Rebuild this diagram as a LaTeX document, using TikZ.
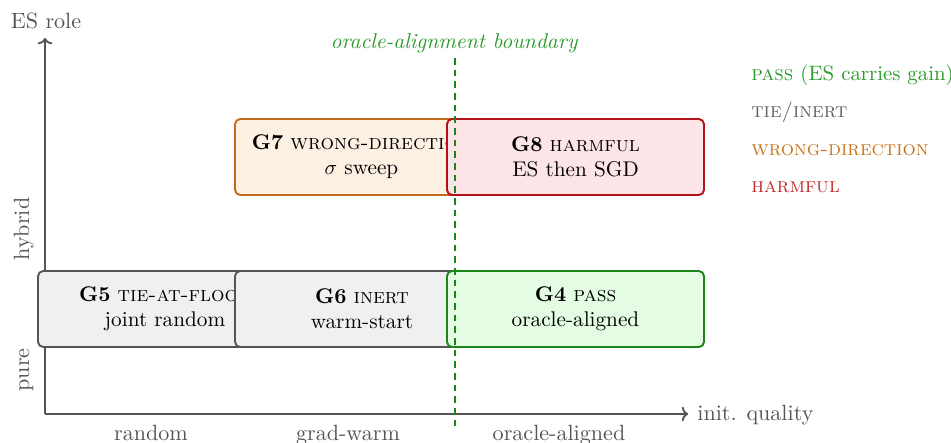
\documentclass[tikz,border=0pt]{standalone}
\usetikzlibrary{arrows.meta}
\definecolor{axisgray}{HTML}{555555}
\definecolor{boxgray}{HTML}{F0F0F0}
\definecolor{edgegray}{HTML}{555555}
\definecolor{passfill}{HTML}{E4FBE4}
\definecolor{passedge}{HTML}{1A861A}
\definecolor{wrongfill}{HTML}{FDF1E4}
\definecolor{wrongedge}{HTML}{BF6A1C}
\definecolor{harmfill}{HTML}{FDE4E6}
\definecolor{harmedge}{HTML}{B3121B}
\definecolor{legpass}{HTML}{2A9A2A}
\definecolor{leggray}{HTML}{606060}
\definecolor{legwrong}{HTML}{C8741E}
\definecolor{legharm}{HTML}{C02A2A}
\tikzset{
  axisline/.style={draw=axisgray, line width=0.9pt, -{To[length=3pt,width=7pt]}},
  axislabel/.style={text=axisgray, font=\fontsize{10.6}{12.7}\selectfont, inner sep=0pt},
  cell/.style={rounded corners=2.5pt, line width=0.9pt, align=center,
    minimum height=36.5pt, font=\fontsize{10.2}{12}\selectfont, inner sep=2pt},
  graycell/.style={cell, fill=boxgray, draw=edgegray},
  passcell/.style={cell, fill=passfill, draw=passedge},
  wrongcell/.style={cell, fill=wrongfill, draw=wrongedge},
  harmcell/.style={cell, fill=harmfill, draw=harmedge},
  boundary/.style={draw=passedge, line width=1pt, dash pattern=on 3.2pt off 2.4pt},
  legend/.style={anchor=base west, inner sep=0pt, font=\fontsize{10}{12}\selectfont},
}
\begin{document}
\begin{tikzpicture}[x=0.48pt, y=-0.48pt]
\useasboundingbox (0,0) rectangle (951,442);
% axes
\coordinate (origin) at (45,414);
\coordinate (ytip) at (45,38);
\coordinate (xtip) at (688,414);
\draw[axisline] (origin) -- (ytip);
\draw[axisline] (origin) -- (xtip);
\node[axislabel, anchor=base] (ylab) at (46,28) {ES role};
\node[axislabel, anchor=base west] (xlab) at (697,420) {init. quality};
\node[axislabel, anchor=base] (xrand) at (151,440) {random};
\node[axislabel, anchor=base] (xgrad) at (348,440) {grad-warm};
\node[axislabel, anchor=base] (xorac) at (559,440) {oracle-aligned};
\node[axislabel, anchor=base, rotate=90] (yhyb) at (29,229) {hybrid};
\node[axislabel, anchor=base, rotate=90] (ypure) at (29,370) {pure};
% cells
\node[graycell, minimum width=121.9pt] (g5) at (165,309)
  {\textbf{G5} \textsc{tie-at-floor}\\joint random};
\node[graycell, minimum width=121.9pt] (g6) at (362,309)
  {\textbf{G6} \textsc{inert}\\warm-start};
\node[passcell, minimum width=123.4pt] (g4) at (575.5,309)
  {\textbf{G4} \textsc{pass}\\oracle-aligned};
\node[wrongcell, minimum width=121.4pt] (g7) at (361.5,157)
  {\textbf{G7} \textsc{wrong-direction}\\$\sigma$ sweep};
\node[harmcell, minimum width=123.4pt] (g8) at (575.5,157)
  {\textbf{G8} \textsc{harmful}\\ES then SGD};
% boundary
\coordinate (btop) at (455,58);
\coordinate (bbot) at (455,430);
\draw[boundary] (btop) -- (bbot);
\node[anchor=base, inner sep=0pt, text=legpass, font=\fontsize{10.3}{12}\selectfont\itshape] (blab) at (454,48)
  {oracle-alignment boundary};
% legend
\node[legend, text=legpass] (l1) at (751,80) {\textsc{pass} (ES carries gain)};
\node[legend, text=leggray] (l2) at (751,117.5) {\textsc{tie/inert}};
\node[legend, text=legwrong] (l3) at (751,155) {\textsc{wrong-direction}};
\node[legend, text=legharm] (l4) at (751,192.5) {\textsc{harmful}};
\end{tikzpicture}
\end{document}
